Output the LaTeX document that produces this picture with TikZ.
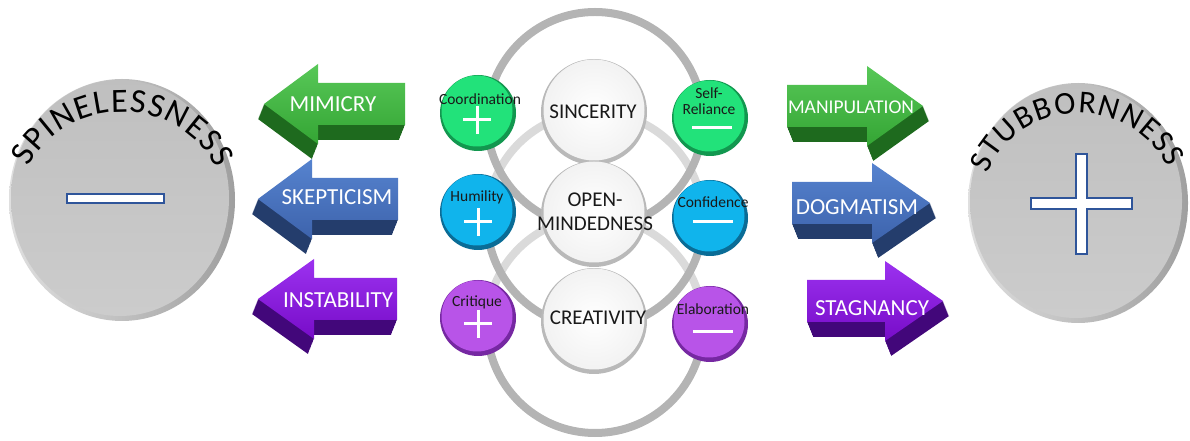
\documentclass[tikz,border=0pt]{standalone}
\usepackage{fontspec}
\setmainfont{Carlito}
\usetikzlibrary{decorations.text}

\definecolor{arrgreen}{HTML}{34A534}
\definecolor{arrgreenlight}{HTML}{58C858}
\definecolor{arrgreendark}{HTML}{1E6A1E}
\definecolor{arrblue}{HTML}{3D63AC}
\definecolor{arrbluelight}{HTML}{5683CF}
\definecolor{arrbluedark}{HTML}{243D6C}
\definecolor{arrpurple}{HTML}{770CC8}
\definecolor{arrpurplelight}{HTML}{9C32F0}
\definecolor{arrpurpledark}{HTML}{42077A}
\definecolor{beadgreen}{HTML}{22E27A}
\definecolor{beadgreendark}{HTML}{12974F}
\definecolor{beadblue}{HTML}{10B4EC}
\definecolor{beadbluedark}{HTML}{0A6C96}
\definecolor{beadpurple}{HTML}{B854E8}
\definecolor{beadpurpledark}{HTML}{7628A2}
\definecolor{ringdark}{HTML}{B4B4B4}
\definecolor{ringlight}{HTML}{DADADA}
\definecolor{barblue}{HTML}{2F559A}

\newcommand{\discfont}{\fontsize{34}{34}\selectfont}
\newcommand{\discfontb}{\fontsize{32}{32}\selectfont}

% tail x, neck x, tip x, mid y, side shift, colour
\newcommand{\blockarrow}[6]{%
  \foreach \k in {1,...,15}
    \fill[#6dark, shift={({#5*\k/15},{-\k})}] (#1,#4+21) -- (#2,#4+21) -- (#2,#4+40) -- (#3,#4)
      -- (#2,#4-40) -- (#2,#4-21) -- (#1,#4-21) -- cycle;
  \shade[top color=#6light, bottom color=#6] (#1,#4+21) -- (#2,#4+21) -- (#2,#4+40) -- (#3,#4)
      -- (#2,#4-40) -- (#2,#4-21) -- (#1,#4-21) -- cycle;
}
% centre x, centre y, colour
\newcommand{\bead}[3]{%
  \fill[#3dark] (#1,#2) circle [radius=38];
  \fill[#3] (#1-1,#2+2) circle [radius=35.5];
}
% centre x, centre y
\newcommand{\whiteball}[2]{%
  \fill[gray!55] (#1,#2) circle [radius=53];
  \shade[inner color=white, outer color=gray!10] (#1,#2+2) circle [radius=50.5];
}

\begin{document}
\begin{tikzpicture}[x=1pt, y=1pt,
    armtext/.style={text=white, font=\fontsize{23}{26}\selectfont},
    balltext/.style={text=black!90, font=\fontsize{21}{24}\selectfont, align=center},
    beadtext/.style={text=black!90, font=\fontsize{15.5}{16}\selectfont, align=center, inner sep=0pt},
    sign/.style={white, line width=3pt},
    ring/.style={line width=8pt}]
  \useasboundingbox (0,0) rectangle (1190,441);

  % the two discs
  \shade[left color=gray!25, right color=gray!75] (122,241) ellipse [x radius=113, y radius=121];
  \shade[top color=gray!50, bottom color=gray!40] (120,243) ellipse [x radius=109, y radius=118];
  \draw[barblue, line width=1.5pt, fill=white] (67,238) rectangle (164,247);
  \path[decorate, decoration={text along path, text align=fit to path,
      text={|\discfont|SPINELESSNESS}}]
    (122,241) ++(158:100 and 88) arc [start angle=158, end angle=21, x radius=100, y radius=88];

  \shade[left color=gray!25, right color=gray!75] (1078,238) ellipse [x radius=110, y radius=120];
  \shade[top color=gray!50, bottom color=gray!40] (1076,240) ellipse [x radius=106, y radius=117];
  \draw[barblue, line width=1.5pt, fill=white] (1076,287) -- (1087,287) -- (1087,243) -- (1132,243)
    -- (1132,232) -- (1087,232) -- (1087,187) -- (1076,187) -- (1076,232) -- (1031,232)
    -- (1031,243) -- (1076,243) -- cycle;
  \path[decorate, decoration={text along path, text align=fit to path,
      text={|\discfontb|STUBBORNNESS}}]
    (1079,236) ++(160:97 and 92) arc [start angle=160, end angle=24, x radius=97, y radius=92];

  % block arrows
  \blockarrow{405}{318}{264}{337}{-6}{arrgreen}
  \blockarrow{398}{312}{258}{242}{-6}{arrblue}
  \blockarrow{397}{314}{258}{142}{-6}{arrpurple}
  \blockarrow{787}{867}{923}{335}{6}{arrgreen}
  \blockarrow{792}{872}{930}{238}{6}{arrblue}
  \blockarrow{807}{885}{943}{140}{6}{arrpurple}
  \node[armtext] (mimicry) at (333,337) {MIMICRY};
  \node[armtext] (skepticism) at (337,244) {SKEPTICISM};
  \node[armtext] (instability) at (338,141) {INSTABILITY};
  \node[armtext, font=\fontsize{19.5}{22}\selectfont] (manipulation) at (851,334) {MANIPULATION};
  \node[armtext] (dogmatism) at (857,234) {DOGMATISM};
  \node[armtext] (stagnancy) at (872,133) {STAGNANCY};

  % linked rings
  \draw[ring, ringlight] (595,221) ++(0:108) arc [start angle=0, end angle=180, radius=108];
  \draw[ring, ringlight] (595,116) ++(0:108) arc [start angle=0, end angle=180, radius=108];
  \draw[ring, ringdark] (595,321) circle [radius=108];
  \draw[ring, ringdark] (595,221) ++(180:108) arc [start angle=180, end angle=360, radius=108];
  \draw[ring, ringdark] (595,116) ++(180:108) arc [start angle=180, end angle=360, radius=108];

  \whiteball{594}{329}
  \whiteball{594}{227}
  \whiteball{594}{120}
  \node[balltext] (sincerity) at (593,329) {SINCERITY};
  \node[balltext] (open) at (595,229) {OPEN-\\MINDEDNESS};
  \node[balltext] (creativity) at (598,123) {CREATIVITY};

  \bead{478}{328}{beadgreen}
  \bead{478}{229}{beadblue}
  \bead{478}{123}{beadpurple}
  \bead{710}{323}{beadgreen}
  \bead{710}{223}{beadblue}
  \bead{710}{117}{beadpurple}

  \node[beadtext] (coordination) at (480,342) {Coordination};
  \node[beadtext] (humility) at (477,244) {Humility};
  \node[beadtext] (critique) at (477,139) {Critique};
  \node[beadtext, font=\fontsize{15.5}{16.5}\selectfont] (reliance) at (709,340) {Self-\\Reliance};
  \node[beadtext] (confidence) at (713,239) {Confidence};
  \node[beadtext] (elaboration) at (713,132) {Elaboration};

  \draw[sign] (463,321) -- (491,321) (477,307) -- (477,335);
  \draw[sign] (464,219) -- (492,219) (478,205) -- (478,233);
  \draw[sign] (464,117) -- (492,117) (478,103) -- (478,131);
  \draw[sign] (692,313) -- (732,313);
  \draw[sign] (693,219) -- (733,219);
  \draw[sign] (693,109) -- (733,109);
\end{tikzpicture}
\end{document}
